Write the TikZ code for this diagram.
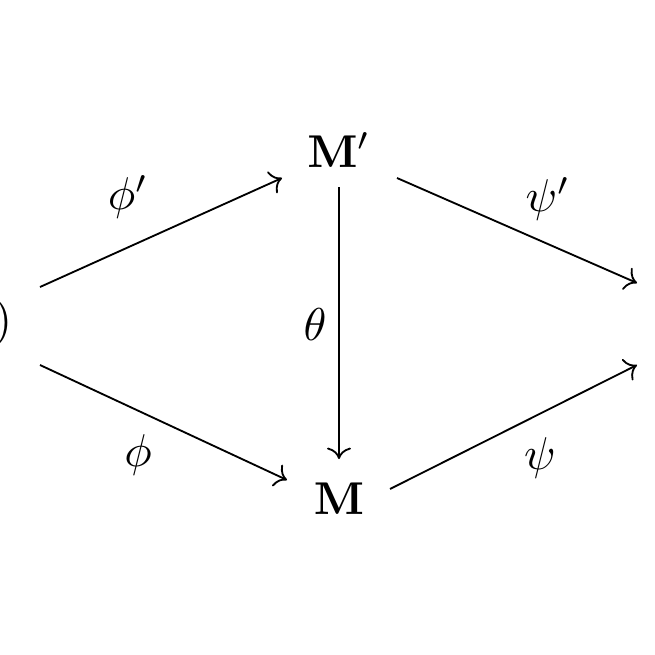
\documentclass[tikz,border=0pt]{standalone}
\usetikzlibrary{arrows.meta}
\begin{document}
\begin{tikzpicture}[x=0.2174pt,y=-0.2174pt,
  arr/.style={line width=0.4pt,-{Computer Modern Rightarrow}},
  lbl/.style={inner sep=0pt}]
\useasboundingbox (0,0) rectangle (655,655);
\coordinate (src) at (-45,325);
\coordinate (tgt) at (724,321);
\node[inner sep=0pt,anchor=east] (paren) at (13,323) {$)$};
\node[inner sep=0pt] (Mp) at (339,150) {$\mathbf{M}'$};
\node[inner sep=0pt] (M) at (339,499) {$\mathbf{M}$};
\draw[arr] ([shift={(85,-38)}]src) -- ([shift={(-57,28)}]Mp.center);
\draw[arr] ([shift={(85,40)}]src) -- ([shift={(-52,-19)}]M.center);
\draw[arr] ([shift={(58,28)}]Mp.center) -- ([shift={(-87,-38)}]tgt);
\draw[arr] ([shift={(51,-10)}]M.center) -- ([shift={(-87,44)}]tgt);
\draw[arr] ([shift={(0,37)}]Mp.center) -- ([shift={(0,-40)}]M.center);
\node[lbl] (lphip) at (128,197) {$\phi'$};
\node[lbl] (lphi) at (138,455) {$\phi$};
\node[lbl] (ltheta) at (315,325) {$\theta$};
\node[lbl] (lpsip) at (548,199) {$\psi'$};
\node[lbl] (lpsi) at (540,458) {$\psi$};
\end{tikzpicture}
\end{document}
